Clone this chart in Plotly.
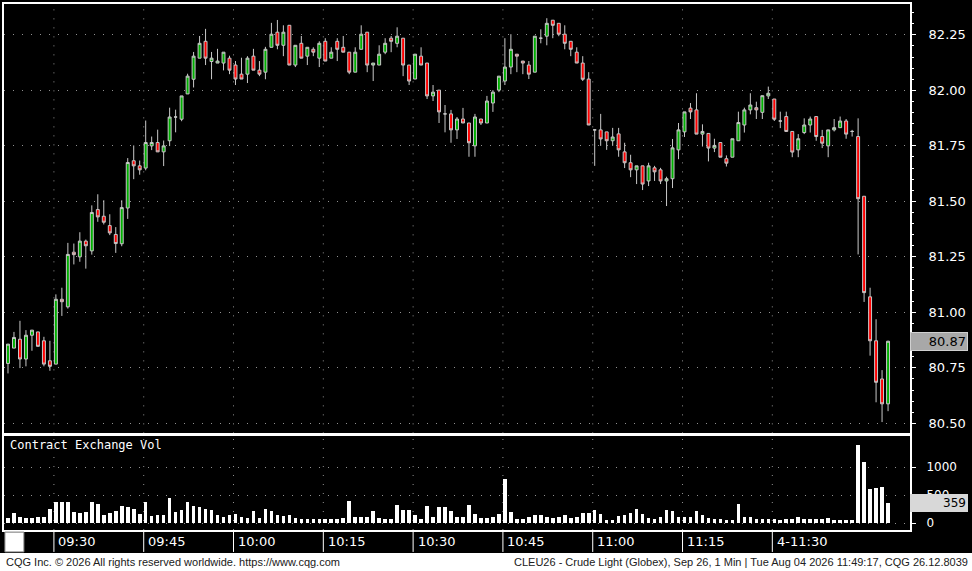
import plotly.graph_objects as go
from plotly.subplots import make_subplots

opens = [80.77,80.839,80.879,80.79,80.897,80.912,80.872,80.782,80.767,81.059,81.025,81.271,81.25,81.321,81.277,81.463,81.433,81.391,81.351,81.309,
81.47,81.683,81.66,81.65,81.75,81.765,81.723,81.773,81.88,81.87,81.984,82.05,82.145,82.221,82.13,82.123,82.123,82.145,82.114,82.073,
82.073,82.154,82.091,82.082,82.194,82.262,82.203,82.293,82.114,82.212,82.154,82.185,82.145,82.221,82.145,82.221,82.194,82.172,82.082,82.185,
82.262,82.114,82.114,82.172,82.235,82.212,82.235,82.114,82.051,82.154,82.123,81.975,82.001,81.894,81.894,81.822,81.871,81.853,81.75,81.871,
81.853,81.943,82.001,82.042,82.105,82.163,82.132,82.114,82.082,82.235,82.244,82.316,82.302,82.253,82.221,82.172,82.123,82.051,81.822,81.822,
81.813,81.773,81.804,81.723,81.674,81.642,81.66,81.592,81.651,81.642,81.592,81.602,81.732,81.813,81.92,81.912,81.803,81.806,81.74,81.765,
81.692,81.699,81.773,81.844,81.912,81.922,81.901,81.975,81.961,81.862,81.882,81.815,81.732,81.81,81.844,81.882,81.792,81.75,81.822,81.832,
81.862,81.815,81.792,81.523,81.07,80.872,80.7,80.588]
highs = [80.857,80.912,80.962,80.92,80.92,80.912,80.89,80.872,81.081,81.111,81.313,81.31,81.361,81.328,81.482,81.532,81.505,81.442,81.384,81.505,
81.695,81.752,81.684,81.864,81.792,81.823,81.774,81.922,81.913,81.975,82.075,82.173,82.245,82.277,82.173,82.187,82.172,82.156,82.132,82.147,
82.154,82.187,82.132,82.196,82.304,82.317,82.293,82.293,82.203,82.245,82.194,82.194,82.221,82.235,82.194,82.235,82.245,82.172,82.194,82.293,
82.262,82.123,82.203,82.235,82.245,82.284,82.235,82.114,82.163,82.194,82.123,82.024,82.001,81.934,81.912,81.88,81.921,81.853,81.894,81.871,
81.975,82.001,82.064,82.235,82.253,82.163,82.132,82.132,82.244,82.275,82.325,82.316,82.302,82.293,82.221,82.194,82.154,82.082,81.822,81.894,
81.813,81.831,81.831,81.764,81.71,81.66,81.66,81.674,81.66,81.651,81.611,81.781,81.853,81.903,81.943,81.987,81.847,81.806,81.782,81.765,
81.707,81.782,81.904,81.922,81.987,81.949,81.976,82.017,81.961,81.904,81.904,81.815,81.803,81.874,81.882,81.882,81.822,81.822,81.871,81.882,
81.871,81.822,81.874,81.523,81.111,80.969,80.74,80.872]
lows = [80.725,80.839,80.749,80.757,80.827,80.847,80.757,80.737,80.767,80.984,81.017,81.216,81.228,81.197,81.26,81.408,81.396,81.348,81.268,81.298,
81.421,81.6,81.62,81.64,81.731,81.723,81.659,81.749,81.811,81.861,81.984,82.013,82.145,82.114,82.05,82.123,82.09,82.073,82.024,82.051,
82.033,82.091,82.064,82.05,82.194,82.185,82.154,82.114,82.105,82.145,82.114,82.154,82.105,82.132,82.145,82.132,82.172,82.073,82.082,82.185,
82.082,82.042,82.114,82.163,82.172,82.194,82.064,82.024,82.051,82.114,81.961,81.952,81.853,81.811,81.764,81.781,81.853,81.701,81.701,81.844,
81.853,81.903,81.992,82.024,82.073,82.082,82.073,82.051,82.082,82.212,82.203,82.235,82.244,82.185,82.154,82.123,82.042,81.844,81.66,81.75,
81.732,81.75,81.701,81.65,81.609,81.578,81.551,81.569,81.592,81.578,81.479,81.56,81.69,81.79,81.871,81.803,81.747,81.68,81.722,81.699,
81.657,81.699,81.773,81.81,81.892,81.871,81.871,81.961,81.862,81.83,81.815,81.699,81.699,81.803,81.81,81.773,81.74,81.699,81.815,81.832,
81.782,81.792,81.261,81.047,80.805,80.595,80.506,80.555]
closes = [80.857,80.887,80.79,80.897,80.92,80.847,80.767,80.757,81.059,81.048,81.261,81.26,81.321,81.3,81.45,81.43,81.406,81.358,81.31,81.472,
81.675,81.66,81.642,81.765,81.765,81.723,81.75,81.88,81.88,81.975,82.064,82.154,82.212,82.145,82.145,82.132,82.172,82.091,82.051,82.051,
82.145,82.091,82.073,82.185,82.253,82.203,82.262,82.114,82.203,82.145,82.194,82.172,82.212,82.132,82.172,82.185,82.172,82.082,82.172,82.253,
82.114,82.123,82.163,82.212,82.221,82.244,82.114,82.042,82.163,82.114,81.975,81.992,81.903,81.894,81.822,81.871,81.853,81.764,81.88,81.853,
81.952,81.992,82.064,82.105,82.185,82.154,82.123,82.073,82.244,82.235,82.302,82.293,82.253,82.212,82.185,82.123,82.05,81.844,81.822,81.781,
81.773,81.79,81.732,81.674,81.642,81.66,81.578,81.66,81.633,81.592,81.602,81.741,81.822,81.903,81.903,81.803,81.815,81.74,81.752,81.699,
81.672,81.782,81.855,81.912,81.934,81.912,81.976,81.987,81.87,81.862,81.815,81.722,81.782,81.844,81.871,81.792,81.762,81.822,81.832,81.862,
81.803,81.815,81.512,81.089,80.872,80.685,80.588,80.87]
volumes = [91,182,109,91,91,109,109,242,376,364,364,194,182,194,364,333,133,170,212,291,
273,242,152,376,121,133,133,442,194,224,376,291,273,242,230,133,109,133,152,109,
91,212,91,242,212,133,121,133,91,61,61,61,73,61,61,61,91,394,109,109,
109,212,91,73,61,315,224,224,133,73,291,109,273,273,212,109,109,315,152,91,
91,109,152,788,194,73,73,109,133,133,109,91,109,133,91,109,182,182,230,152,
48,48,121,133,182,242,152,91,73,109,224,212,109,109,109,212,133,91,73,61,
48,48,333,109,109,73,73,73,73,48,61,73,109,61,61,61,73,91,48,48,
48,48,1394,1091,606,624,636,351]
time_labels = ["09:30","09:45","10:00","10:15","10:30","10:45","11:00","11:15","4-11:30"]
time_index = [8,23,38,53,68,83,98,113,128]
price_ticks = [80.50,80.75,81.00,81.25,81.50,81.75,82.00,82.25]
vol_ticks = [0,500,1000]

x = list(range(len(opens)))
fig = make_subplots(rows=2, cols=1, shared_xaxes=True, row_heights=[0.82, 0.18], vertical_spacing=0.0)
fig.add_trace(go.Candlestick(x=x, open=opens, high=highs, low=lows, close=closes,
    increasing=dict(line=dict(color="#c8c8c8", width=1), fillcolor="#00b000"),
    decreasing=dict(line=dict(color="#c8c8c8", width=1), fillcolor="#ff0000"),
    whiskerwidth=0, showlegend=False), row=1, col=1)
fig.add_trace(go.Bar(x=x, y=volumes, marker=dict(color="white", line=dict(width=0)), width=0.6, showlegend=False), row=2, col=1)

DOT = "1px,8px"
GRID = "#909090"
xr = [(2-6)/6, (910-6)/6]
grid_x = [i - 0.33 for i in time_index]
fig.update_xaxes(range=xr, showline=True, linecolor="white", linewidth=2, mirror=True,
                 showgrid=False, showticklabels=False, ticks="", zeroline=False, rangeslider_visible=False)
fig.update_layout(
    width=972, height=571, paper_bgcolor="black", plot_bgcolor="black",
    margin=dict(l=2, r=62, t=2, b=41), bargap=0,
    font=dict(family="DejaVu Sans", color="white", size=13),
    yaxis=dict(domain=[0.1837, 1], range=[80.455, 82.389], side="right", tickvals=price_ticks,
               ticktext=[f"{v:.2f}" for v in price_ticks], ticks="outside", ticklen=4, tickcolor="white",
               ticklabelstandoff=10,
               showgrid=True, gridcolor=GRID, griddash=DOT, gridwidth=1,
               showline=True, linecolor="white", linewidth=2, mirror=True, zeroline=False,
               minor=dict(dtick=0.05, ticks="outside", ticklen=2, tickcolor="white", showgrid=False),
               tickfont=dict(size=13, family="DejaVu Sans")),
    yaxis2=dict(domain=[0, 0.178], range=[-125, 1554], side="right", tickvals=vol_ticks,
                ticktext=[str(v) for v in vol_ticks], ticks="outside", ticklen=4, tickcolor="white",
                ticklabelstandoff=8,
                showgrid=True, gridcolor=GRID, griddash=DOT, dtick=500,
                showline=True, linecolor="white", linewidth=2, mirror=True, zeroline=False,
                tickfont=dict(size=12, family="DejaVu Sans")),
)
shapes = []
for gx in grid_x:
    for yr in ("y", "y2"):
        shapes.append(dict(type="line", xref="x", yref=f"{yr} domain", x0=gx, x1=gx, y0=0, y1=1,
                           line=dict(color=GRID, width=1, dash=DOT), layer="below"))
    shapes.append(dict(type="line", xref="x", yref="paper", x0=gx, x1=gx, y0=-0.0417, y1=0,
                       line=dict(color="white", width=1)))
shapes.append(dict(type="rect", xref="paper", yref="paper", x0=-0.01, x1=1.08, y0=-0.09, y1=-0.0436,
                   fillcolor="white", line=dict(width=0)))
shapes.append(dict(type="rect", xref="paper", yref="paper", x0=0.001, x1=0.022, y0=-0.0417, y1=-0.004,
                   fillcolor="white", line=dict(color="#808080", width=1)))
fig.update_layout(shapes=shapes)
ann = []
for gx, t in zip(grid_x, time_labels):
    ann.append(dict(x=gx + 0.4, y=-0.0215, xref="x", yref="paper", text=t, showarrow=False,
                    xanchor="left", yanchor="middle", font=dict(size=13, color="white", family="DejaVu Sans")))
ann.append(dict(x=0.004, y=0.162, xref="paper", yref="paper", text="Contract Exchange Vol", showarrow=False,
                xanchor="left", yanchor="middle", font=dict(size=12, color="white", family="DejaVu Sans Mono")))
ann.append(dict(x=1.0, y=closes[-1], xref="paper", yref="y", text="80.87", showarrow=False, xanchor="left",
                bgcolor="#a8a8a8", bordercolor="#d0d0d0", width=54, align="right",
                font=dict(size=13, color="black", family="DejaVu Sans")))
ann.append(dict(x=1.0, y=volumes[-1], xref="paper", yref="y2", text="359", showarrow=False, xanchor="left",
                bgcolor="#d8d8d8", bordercolor="#d8d8d8", width=54, align="right",
                font=dict(size=12, color="black", family="DejaVu Sans")))
ann.append(dict(x=0, y=-0.061, xref="paper", yref="paper", text="CQG Inc. © 2026 All rights reserved worldwide. https://www.cqg.com",
                showarrow=False, xanchor="left", yanchor="middle", font=dict(size=11, color="#202020", family="Liberation Sans")))
ann.append(dict(x=1.066, y=-0.061, xref="paper", yref="paper",
                text="CLEU26 - Crude Light (Globex), Sep 26, 1 Min | Tue Aug 04 2026 11:49:17, CQG 26.12.8039",
                showarrow=False, xanchor="right", yanchor="middle", font=dict(size=11, color="#202020", family="Liberation Sans")))
fig.update_layout(annotations=ann)
fig.write_html("out.html", config={"displayModeBar": False},
               post_script="document.body.style.margin='0';document.body.style.overflow='hidden';")
